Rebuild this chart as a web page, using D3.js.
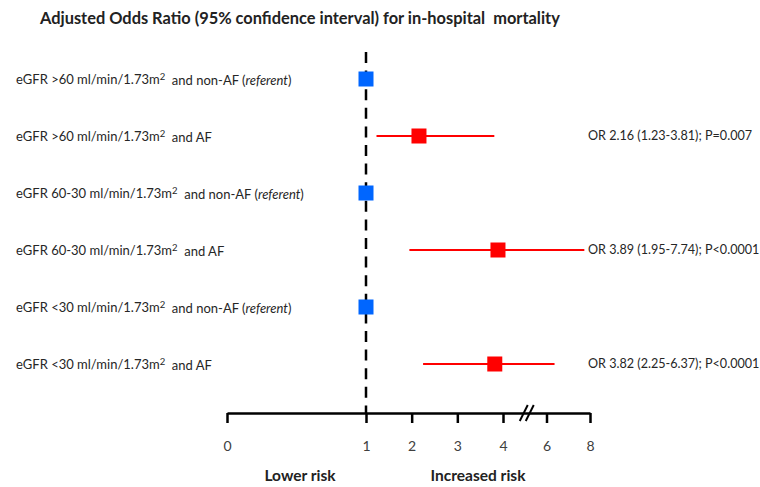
<!DOCTYPE html>
<html>
<head>
<meta charset="utf-8">
<script src="https://cdn.jsdelivr.net/npm/d3@7"></script>
<style>
  html, body { margin: 0; padding: 0; background: #fff; }
  svg { display: block; font-family: Lato, "Open Sans", sans-serif; }
  text { white-space: pre; }
</style>
</head>
<body>
<svg id="chart" width="760" height="487"></svg>
<script>
// Row descriptions: eGFR stratum and AF status
const strata = [">60", ">60", "60-30", "60-30", "<30", "<30"];
const afStatus = ["non-AF", "AF", "non-AF", "AF", "non-AF", "AF"];
const isReferent = [true, false, true, false, true, false];

// Adjusted odds ratios with 95% CI and P values
const oddsRatios = [1, 2.16, 1, 3.89, 1, 3.82];
const ciLower = [null, 1.23, null, 1.95, null, 2.25];
const ciUpper = [null, 3.81, null, 7.74, null, 6.37];
const pLabels = [null, "P=0.007", null, "P<0.0001", null, "P<0.0001"];

// Broken axis: ticks 0..4, then a break, then 6 and 8
const tickValues = [0, 1, 2, 3, 4, 6, 8];
const axisBreakpoints = [0, 1, 4, 8];

const titleText = "Adjusted Odds Ratio (95% confidence interval) for in-hospital  mortality";
const lowerLabel = "Lower risk";
const higherLabel = "Increased risk";

const svg = d3.select("#chart");

// Piecewise linear scale: 0–1 is stretched, 4–8 is compressed after the break
const x = d3.scaleLinear()
  .domain(axisBreakpoints)
  .range([227, 366, 503, 590]);

const y = d3.scalePoint()
  .domain(d3.range(strata.length))
  .range([79, 364]);

const axisY = 413;

// Title
svg.append("text")
  .attr("x", 40).attr("y", 24)
  .attr("font-size", 16.4).attr("font-weight", "bold")
  .attr("fill", "#222")
  .text(titleText);

// Reference line at OR = 1
svg.append("line")
  .attr("x1", x(1)).attr("x2", x(1))
  .attr("y1", 52).attr("y2", axisY)
  .attr("stroke", "#000").attr("stroke-width", 2.5)
  .attr("stroke-dasharray", "11,7.6");

// Row labels
const labels = svg.append("g").selectAll("text")
  .data(strata)
  .join("text")
  .attr("x", 16)
  .attr("y", (d, i) => y(i))
  .attr("dy", "0.35em")
  .attr("font-size", 13)
  .attr("fill", "#262626");

labels.each(function (d, i) {
  const t = d3.select(this);
  t.append("tspan").text(`eGFR ${d} ml/min/1.73m`);
  t.append("tspan").attr("dy", "-0.4em").attr("font-size", 9.5).text("2");
  t.append("tspan").attr("dy", "0.4em").text(`  and ${afStatus[i]}` + (isReferent[i] ? " (" : ""));
  if (isReferent[i]) {
    t.append("tspan").attr("font-style", "italic").text("referent");
    t.append("tspan").text(")");
  }
});

const rows = d3.range(strata.length);

// Confidence interval whiskers
svg.append("g").selectAll("line")
  .data(rows.filter(i => ciLower[i] !== null))
  .join("line")
  .attr("x1", i => x(ciLower[i]))
  .attr("x2", i => x(ciUpper[i]))
  .attr("y1", i => y(i)).attr("y2", i => y(i))
  .attr("stroke", "#ff0000").attr("stroke-width", 2.2);

// Point estimates
const sq = 15;
svg.append("g").selectAll("rect")
  .data(rows)
  .join("rect")
  .attr("x", i => x(oddsRatios[i]) - sq / 2)
  .attr("y", i => y(i) - sq / 2)
  .attr("width", sq).attr("height", sq)
  .attr("fill", i => isReferent[i] ? "#0066ff" : "#ff0000");

// OR annotations
svg.append("g").selectAll("text")
  .data(rows.filter(i => !isReferent[i]))
  .join("text")
  .attr("x", 588)
  .attr("y", i => y(i))
  .attr("dy", "0.35em")
  .attr("font-size", 12.6)
  .attr("fill", "#262626")
  .text(i => `OR ${oddsRatios[i].toFixed(2)} (${ciLower[i].toFixed(2)}-${ciUpper[i].toFixed(2)}); ${pLabels[i]}`);

// Bottom axis
const axis = d3.axisBottom(x)
  .tickValues(tickValues)
  .tickFormat(d3.format("d"))
  .tickSize(10)
  .tickSizeOuter(0)
  .tickPadding(18);

const gAxis = svg.append("g")
  .attr("transform", `translate(0,${axisY})`)
  .call(axis);
gAxis.select(".domain").attr("stroke", "#000").attr("stroke-width", 2.5);
gAxis.selectAll(".tick line").attr("stroke", "#000").attr("stroke-width", 2.5);
gAxis.selectAll(".tick text")
  .attr("font-size", 14)
  .attr("font-family", "Lato, sans-serif")
  .attr("fill", "#404040");

// Axis break marks between 4 and 6
const breakX = (x(4) + x(6)) / 2 + 2;
[-3, 3].forEach(off => {
  svg.append("line")
    .attr("x1", breakX + off - 4).attr("y1", axisY + 8)
    .attr("x2", breakX + off + 4).attr("y2", axisY - 8)
    .attr("stroke", "#000").attr("stroke-width", 2);
});

// Risk direction labels
svg.append("text")
  .attr("x", 300).attr("y", 481)
  .attr("text-anchor", "middle")
  .attr("font-size", 15.5).attr("font-weight", "bold").attr("fill", "#222")
  .text(lowerLabel);
svg.append("text")
  .attr("x", 478).attr("y", 481)
  .attr("text-anchor", "middle")
  .attr("font-size", 15.5).attr("font-weight", "bold").attr("fill", "#222")
  .text(higherLabel);
</script>
</body>
</html>
